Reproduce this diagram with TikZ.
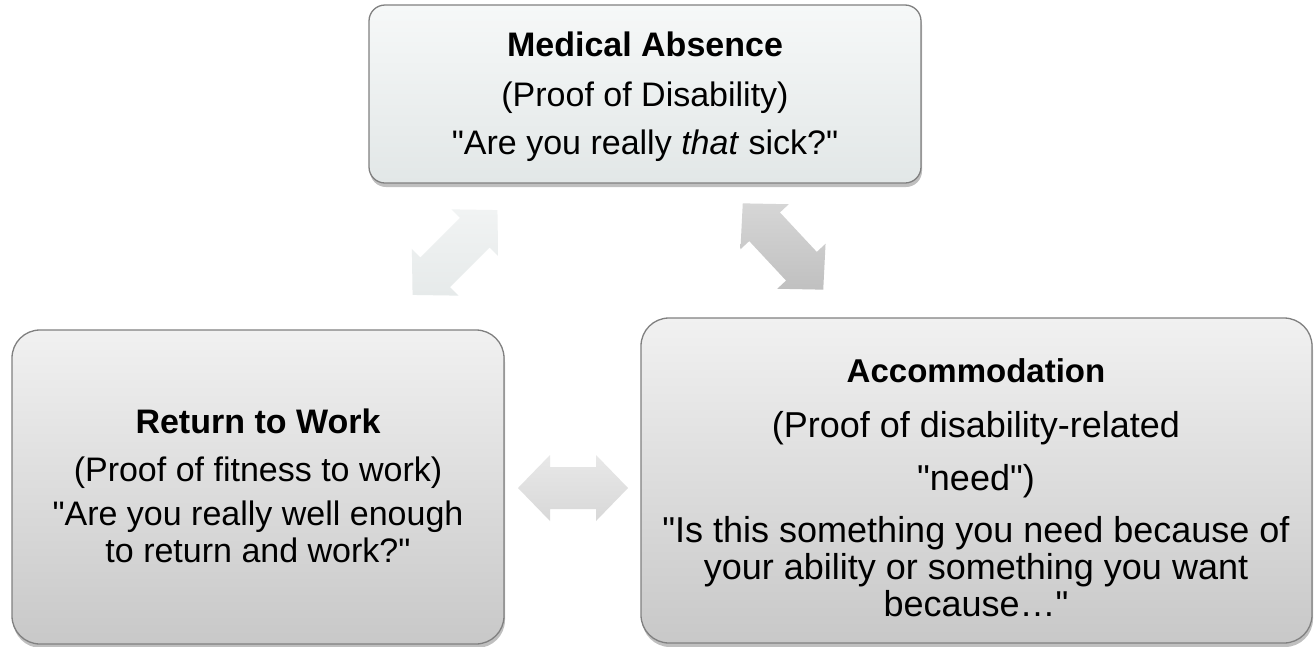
\documentclass[tikz,border=0pt]{standalone}
\usepackage{fontspec}
\setmainfont{Liberation Sans}[Ligatures=TeXOff]
\usetikzlibrary{shadows}
\definecolor{bordergray}{HTML}{808080}
\definecolor{topA}{HTML}{F6F8F8}
\definecolor{topB}{HTML}{E2E7E7}
\definecolor{greyA}{HTML}{F1F1F1}
\definecolor{greyB}{HTML}{C8C8C8}
\definecolor{arrLight}{HTML}{F1F3F3}
\definecolor{arrLightB}{HTML}{E6EAEA}
\definecolor{arrMid}{HTML}{E8E8E8}
\definecolor{arrMidB}{HTML}{D8D8D8}
\definecolor{arrDark}{HTML}{D6D6D6}
\definecolor{arrDarkB}{HTML}{C0C0C0}
\begin{document}
\begin{tikzpicture}[x=1pt,y=-1pt,
  boxbase/.style={draw=bordergray, line width=1.3pt, inner sep=0pt,
    drop shadow={shadow xshift=1pt, shadow yshift=-4pt, opacity=0.25, fill=black}},
  topbox/.style={boxbase, rounded corners=16pt, top color=topA, bottom color=topB},
  greybox/.style={boxbase, rounded corners=28pt, top color=greyA, bottom color=greyB},
  boxtext/.style={align=center, text=black, inner sep=0pt, font=\fontsize{34}{37}\selectfont},
  acctext/.style={align=center, text=black, inner sep=0pt, font=\fontsize{36}{37}\selectfont},
  arrowbase/.style={draw=none, drop shadow={shadow xshift=0pt, shadow yshift=-3pt, opacity=0.12, fill=black}},
  lightarrow/.style={arrowbase, top color=arrLight, bottom color=arrLightB},
  midarrow/.style={arrowbase, top color=arrMid, bottom color=arrMidB},
  darkarrow/.style={arrowbase, top color=arrDark, bottom color=arrDarkB},
  pics/dblarrow/.style={code={
    \path[pic actions] (-#1,0) -- ({-#1+32},-33) -- ({-#1+32},-21) -- ({#1-32},-21)
      -- ({#1-32},-33) -- (#1,0) -- ({#1-32},33) -- ({#1-32},21) -- ({-#1+32},21)
      -- ({-#1+32},33) -- cycle;
  }}
]
\useasboundingbox[fill=white] (0,0) rectangle (1314,646);

% boxes
\node[topbox, minimum width=552pt, minimum height=178pt] (med) at (645,94) {};
\node[boxtext] (medtext) at (645,97)
  {{\bfseries Medical Absence}\\[13pt]
   (Proof of Disability)\\[11pt]
   "Are you really \textit{that} sick?"};

\node[greybox, minimum width=492pt, minimum height=314pt] (rtw) at (258,487) {};
\node[boxtext] (rtwtext) at (258,486)
  {{\bfseries Return to Work}\\[11pt]
   (Proof of fitness to work)\\[7pt]
   "Are you really well enough\\
   to return and work?"};

\node[greybox, minimum width=671pt, minimum height=325pt] (acc) at (976.5,480.5) {};
\node[acctext] (acctxt) at (976,488)
  {{\fontsize{33}{37}\selectfont\bfseries Accommodation}\\[18pt]
   (Proof of disability-related\\[16pt]
   "need")\\[15pt]
   "Is this something you need because of\\
   your ability or something you want\\
   because…"};

% double arrows
\pic[lightarrow, rotate=45] (medrtw) at (455,252.5) {dblarrow=60};
\pic[darkarrow, rotate=-47] (medacc) at (783,246.5) {dblarrow=59};
\pic[midarrow] (rtwacc) at (573,488) {dblarrow=55};
\end{tikzpicture}
\end{document}
